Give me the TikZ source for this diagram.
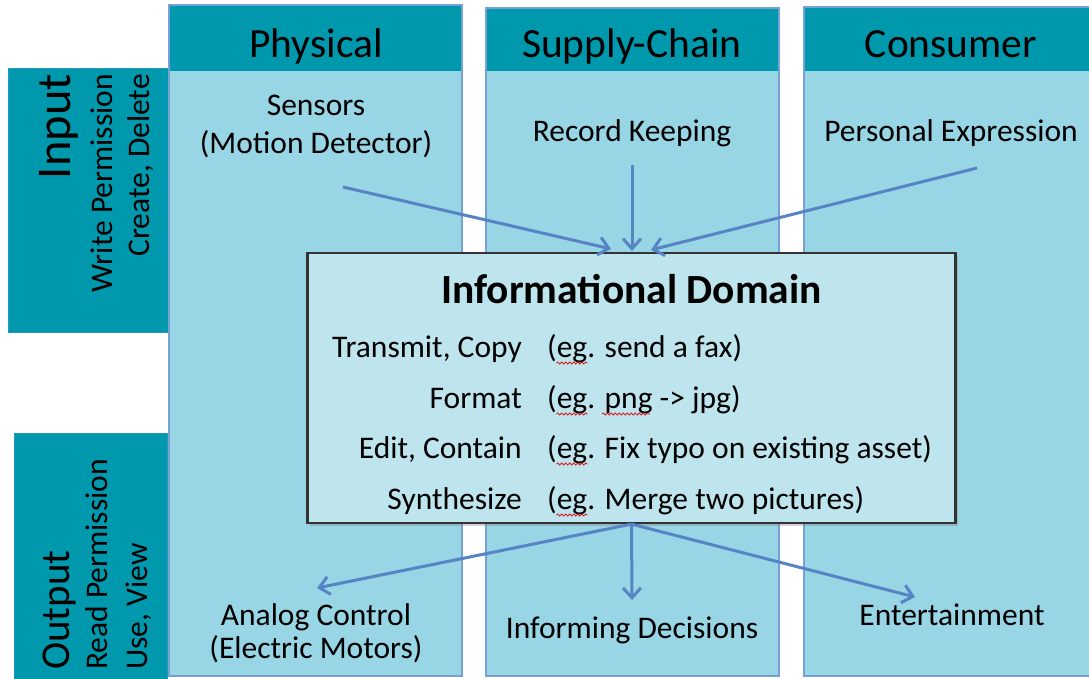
\documentclass[tikz,border=0pt]{standalone}
\usepackage{fontspec}
\setmainfont{Carlito}
\usetikzlibrary{arrows.meta,shadows,decorations.pathmorphing}
\definecolor{hdrteal}{RGB}{0,152,172}
\definecolor{colfill}{RGB}{152,214,229}
\definecolor{colline}{RGB}{118,160,214}
\definecolor{boxfill}{RGB}{190,229,237}
\definecolor{arrowblue}{RGB}{86,132,196}
\definecolor{squigred}{RGB}{220,30,30}
\newcommand{\twol}[2]{\begin{tabular}[t]{@{}c@{}}#1\\#2\end{tabular}}
\begin{document}
\begin{tikzpicture}[x=1pt,y=-1pt,
  colbody/.style={fill=colfill},
  colframe/.style={draw=colline,line width=1.5pt},
  hdr/.style={fill=hdrteal},
  bar/.style={fill=hdrteal,draw=hdrteal!70!colline,line width=0.8pt},
  lbl/.style={font=\fontsize{31.5}{38.5}\selectfont,inner sep=0pt},
  head/.style={font=\fontsize{41.5}{50}\selectfont,inner sep=0pt},
  side/.style={font=\fontsize{31.5}{38}\selectfont,inner sep=0pt,rotate=90},
  box/.style={fill=boxfill,draw=black!80,line width=2.2pt,inner sep=0pt,
    drop shadow={shadow xshift=2.5pt,shadow yshift=-2.5pt,opacity=0.35}},
  arr/.style={draw=arrowblue,line width=3pt,-{Straight Barb[length=10pt,width=18pt]}},
  squig/.style={draw=squigred,line width=0.8pt,decorate,
    decoration={snake,amplitude=1.1pt,segment length=4pt}}]
\useasboundingbox (0,0) rectangle (1089,678);
\fill[white] (0,0) rectangle (1089,678);
% side bars
\draw[bar] (8,68) rectangle (170,332);
\draw[bar] (14,433) rectangle (167,690);
% columns
\foreach \l/\r/\t in {169/462/5, 486/779/8, 804/1097/7}{
  \fill[colbody] (\l,\t) rectangle (\r,676);
  \fill[hdr] (\l,\t) rectangle (\r,71);
  \draw[colframe] (\l,\t) rectangle (\r,676);
}
% headers
\node[head,anchor=base] (physical) at (316,57) {Physical};
\node[head,anchor=base] (supply) at (632,57) {Supply-Chain};
\node[head,anchor=base] (consumer) at (951,57) {Consumer};
% side texts
\node[side,font=\fontsize{48.5}{55}\selectfont,anchor=base east] (input) at (70,74) {Input};
\node[side,anchor=base east] (writeperm) at (112,74) {Write Permission};
\node[side,anchor=base east] (create) at (149,74) {Create, Delete};
\node[side,font=\fontsize{41}{48}\selectfont,anchor=base west] (output) at (69,670) {Output};
\node[side,anchor=base west] (readperm) at (107,670) {Read Permission};
\node[side,anchor=base west] (useview) at (147,670) {Use, View};
% input labels
\node[lbl,anchor=base] (sensors) at (316,115) {\twol{Sensors}{(Motion Detector)}};
\node[lbl,anchor=base] (record) at (632,141) {Record Keeping};
\node[lbl,anchor=base] (personal) at (951,141) {Personal Expression};
% output labels
\node[lbl,font=\fontsize{31.5}{33}\selectfont,anchor=base] (analog) at (316,625) {\twol{Analog Control}{(Electric Motors)}};
\node[lbl,anchor=base] (informing) at (632,638) {Informing Decisions};
\node[lbl,anchor=base] (entertain) at (952,625) {Entertainment};
% central box
\node[box,minimum width=648pt,minimum height=270pt] (box) at (631.5,388) {};
\node[head,font=\fontsize{41.5}{50}\selectfont\bfseries,anchor=base] (title) at (631.5,303) {Informational Domain};
\node[lbl,anchor=base east] (l1) at (522,357) {Transmit, Copy};
\node[lbl,anchor=base east] (l2) at (522,408) {Format};
\node[lbl,anchor=base east] (l3) at (522,458) {Edit, Contain};
\node[lbl,anchor=base east] (l4) at (522,509) {Synthesize};
\node[lbl,anchor=base west] (r1) at (547,357) {(eg. send a fax)};
\node[lbl,anchor=base west] (r2) at (547,408) {(eg. png -> jpg)};
\node[lbl,anchor=base west] (r3) at (547,458) {(eg. Fix typo on existing asset)};
\node[lbl,anchor=base west] (r4) at (547,509) {(eg. Merge two pictures)};
% spell-check squiggles
\foreach \n in {r1,r2,r3,r4}{
  \draw[squig] ([xshift=9.5pt,yshift=-6pt]\n.base west) -- ++(31,0);
}
\draw[squig] ([xshift=55pt,yshift=-6pt]r2.base west) -- ++(48,0);
% arrows in
\draw[arr] ([shift={(27pt,-72pt)}]sensors.base) -- ([shift={(-20.5pt,3pt)}]box.north);
\draw[arr] ([shift={(0pt,-24pt)}]record.base) -- ([shift={(0.5pt,1pt)}]box.north);
\draw[arr] ([shift={(26pt,-27pt)}]personal.base) -- ([shift={(19.5pt,2pt)}]box.north);
% arrows out
\draw[arr] (box.south) -- ([shift={(1pt,37pt)}]analog.base);
\draw[arr] (box.south) -- ([shift={(0pt,38pt)}]informing.base);
\draw[arr] (box.south) -- ([shift={(-37pt,28pt)}]entertain.base);
\end{tikzpicture}
\end{document}
